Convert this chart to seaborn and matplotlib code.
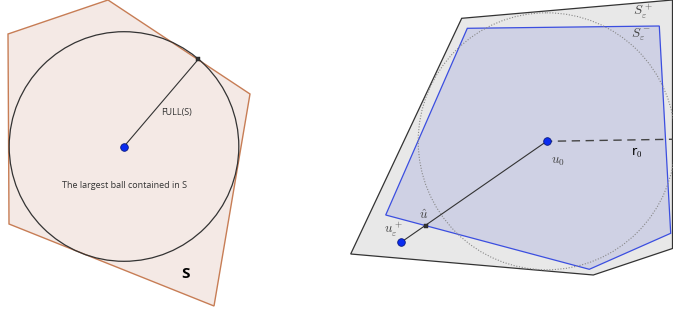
import numpy as np
import pandas as pd
import seaborn as sns
import matplotlib.pyplot as plt
from matplotlib.patches import Circle

sns.set_style("white")
plt.rcParams['font.family'] = ['Open Sans', 'DejaVu Sans']
plt.rcParams['mathtext.fontset'] = 'cm'

# left figure: set S and its largest inscribed ball (pixel coords)
s_x = [8, 108, 250, 214, 9]
s_y = [34, 0, 94, 306, 224]
ball_center = (124, 146.5)
ball_r = 114.8
touch_pt = (198.3, 59.3)

# right figure: S_eps^+ (outer) and S_eps^- (inner)
splus_x = [350.7, 461.7, 672.5, 672.5, 593.3]
splus_y = [254, 18.3, 0, 248.5, 275]
sminus_x = [385.7, 467.3, 659.3, 670.7, 589.3]
sminus_y = [215, 28.3, 26, 233.3, 269.3]
u0 = (546.7, 141.3)
u_eps = (401, 242.3)
u_hat = (425.7, 225.7)
r0_circle = 128.5
r0_end = (676, 139.2)

fig = plt.figure(figsize=(6.73, 3.14), dpi=100)
ax = fig.add_axes([0, 0, 1, 1])

# left
ax.fill(s_x, s_y, facecolor='#f4e9e5', edgecolor='#c77d55', lw=1.0, zorder=1)
ax.add_patch(Circle(ball_center, ball_r, fill=False, ec='#333333', lw=0.9, zorder=2))
seg = pd.DataFrame({'x': [ball_center[0], touch_pt[0]], 'y': [ball_center[1], touch_pt[1]]})
sns.lineplot(data=seg, x='x', y='y', color='#333333', lw=0.8, ax=ax, sort=False, zorder=3)
ax.text(177, 112, 'FULL(S)', fontsize=6.5, color='#333333', ha='center', va='center')
ax.text(125, 185, 'The largest ball contained in S', fontsize=6.5, color='#333333',
        ha='center', va='center')
ax.text(185, 274, 'S', fontsize=11, fontweight='bold', color='black', ha='center', va='center')

# right
ax.fill(splus_x, splus_y, facecolor='#e8e8e8', edgecolor='#333333', lw=0.9, zorder=1)
ax.fill(sminus_x, sminus_y, facecolor='#cfd1e4', edgecolor='#3b4ee0', lw=0.9, zorder=2)
ax.add_patch(Circle(u0, r0_circle, fill=False, ec='#888888', lw=0.8, ls=(0, (1, 1.5)), zorder=3))
dash = pd.DataFrame({'x': [u0[0], r0_end[0]], 'y': [u0[1], r0_end[1]]})
sns.lineplot(data=dash, x='x', y='y', color='#444444', lw=1.0, ax=ax, sort=False, zorder=3)
ax.lines[-1].set_linestyle((2, (6, 4)))
seg2 = pd.DataFrame({'x': [u_eps[0], u0[0]], 'y': [u_eps[1], u0[1]]})
sns.lineplot(data=seg2, x='x', y='y', color='#333333', lw=0.8, ax=ax, sort=False, zorder=3)

big = pd.DataFrame({'x': [ball_center[0], u0[0], u_eps[0]], 'y': [ball_center[1], u0[1], u_eps[1]]})
sns.scatterplot(data=big, x='x', y='y', color='#0a2cf0', edgecolor='#0a1a80', linewidth=0.6,
                s=30, ax=ax, zorder=5)
small = pd.DataFrame({'x': [touch_pt[0], u_hat[0]], 'y': [touch_pt[1], u_hat[1]]})
sns.scatterplot(data=small, x='x', y='y', color='#333333', edgecolor='#222222', linewidth=0.3,
                s=10, marker='s', ax=ax, zorder=5)

mcol = '#444444'
ax.text(558.3, 161.7, r'$u_0$', fontsize=9.5, color=mcol, ha='center', va='center')
ax.text(637, 153, r'r$_\mathsf{0}$', fontsize=9, color='black', ha='center', va='center',
        family='DejaVu Sans')
ax.text(424, 215.5, r'$\hat{u}$', fontsize=9.5, color=mcol, ha='center', va='center')
ax.text(393.3, 229.5, r'$u_\varepsilon^+$', fontsize=9.5, color=mcol, ha='center', va='center')
ax.text(642.7, 11.5, r'$S_\varepsilon^+$', fontsize=9.5, color=mcol, ha='center', va='center')
ax.text(641, 35, r'$S_\varepsilon^-$', fontsize=9.5, color=mcol, ha='center', va='center')

ax.set_xlim(0, 673)
ax.set_ylim(314, 0)
ax.set_axis_off()
if ax.get_legend():
    ax.get_legend().remove()

plt.savefig('out.png', dpi=100)
